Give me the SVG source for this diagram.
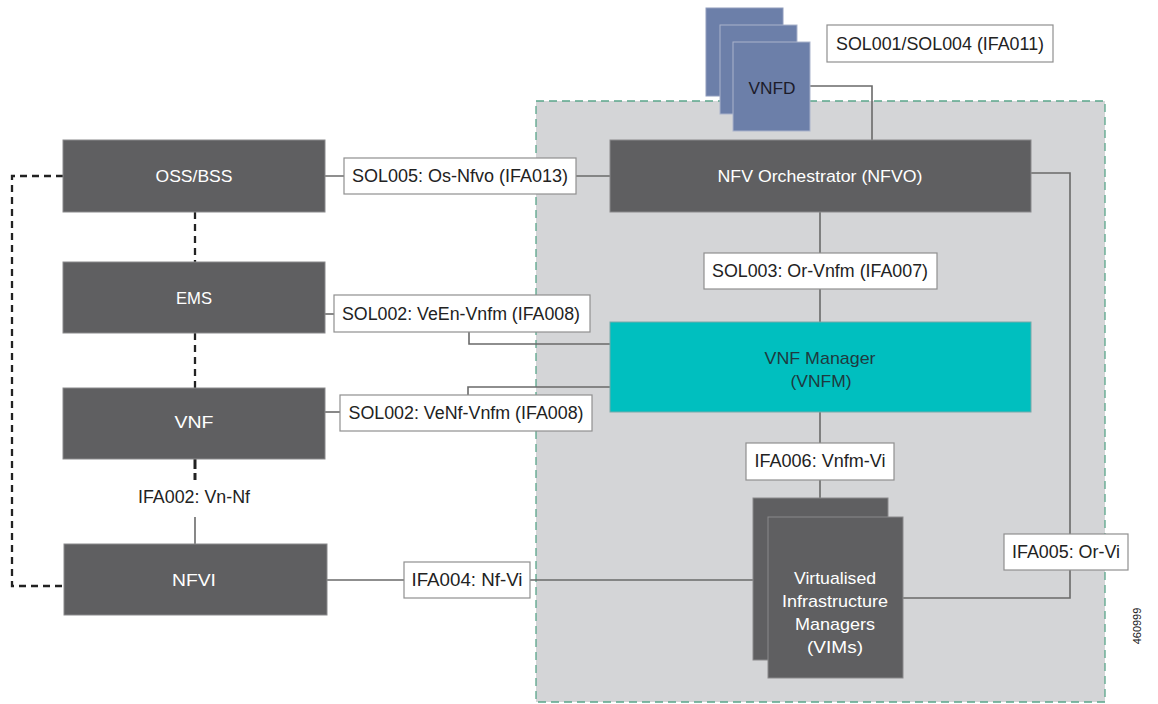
<svg xmlns="http://www.w3.org/2000/svg" width="1158" height="704" viewBox="0 0 1158 704">
<style>
.node{fill:#5f5f61;stroke:#8a8a8c;stroke-width:1}
.nt{font-family:"Liberation Sans",Arial,sans-serif;font-size:17px;fill:#ffffff;text-anchor:middle}
.dk{fill:#1e3a40}
.lbl{fill:#ffffff;stroke:#8f8f8f;stroke-width:1.2}
.lt{font-family:"Liberation Sans",Arial,sans-serif;font-size:17.5px;fill:#222222;text-anchor:middle}
.ln{fill:none;stroke:#6a6a6a;stroke-width:1.6}
.dash{fill:none;stroke:#222222;stroke-width:2.3;stroke-dasharray:7 5}
</style>
<rect width="1158" height="704" fill="#ffffff"/>
<g id="container">
<rect x="536" y="101" width="569" height="601" fill="#d4d5d7" stroke="#5aa58a" stroke-width="1.3" stroke-dasharray="8 5"/>
</g>
<g id="connectors">
<polyline class="ln" points="810,86 872,86 872,140"/>
<line class="ln" x1="325" y1="176" x2="610" y2="176"/>
<line class="ln" x1="325" y1="314" x2="334" y2="314"/>
<polyline class="ln" points="469,332 469,344 610,344"/>
<line class="ln" x1="325" y1="412" x2="340" y2="412"/>
<polyline class="ln" points="468,395 468,387 610,387"/>
<line class="ln" x1="820" y1="212" x2="820" y2="322"/>
<line class="ln" x1="820" y1="412" x2="820" y2="498"/>
<line class="ln" x1="327" y1="580" x2="753" y2="580"/>
<polyline class="ln" points="1031,173 1070,173 1070,598 903,598"/>
<line class="ln" x1="195" y1="517" x2="195" y2="544"/>
<line class="dash" x1="195" y1="212" x2="195" y2="262"/>
<line class="dash" x1="195" y1="333" x2="195" y2="388"/>
<line x1="195" y1="459" x2="195" y2="480" stroke="#222" stroke-width="3" stroke-dasharray="10 4"/>
<polyline class="dash" points="63,176 12,176 12,586 64,586"/>
</g>
<g id="vnfd">
<rect x="706" y="8" width="77" height="88" fill="#6c7fa9" stroke="#8f9cbc"/>
<rect x="720" y="25" width="77" height="89" fill="#6c7fa9" stroke="#a9b3cb"/>
<rect x="733" y="42" width="77" height="89" fill="#6c7fa9" stroke="#a9b3cb"/>
<text x="772" y="94" font-family="Liberation Sans,Arial,sans-serif" font-size="17" fill="#1c1c2a" text-anchor="middle" textLength="47" lengthAdjust="spacingAndGlyphs">VNFD</text>
</g>
<g id="label-sol001">
<rect class="lbl" x="827" y="25" width="226" height="37"/>
<text class="lt" x="940" y="50" textLength="208" lengthAdjust="spacingAndGlyphs">SOL001/SOL004 (IFA011)</text>
</g>
<g id="oss">
<rect class="node" x="63" y="140" width="262" height="72"/>
<text class="nt" x="194" y="182" textLength="77" lengthAdjust="spacingAndGlyphs">OSS/BSS</text>
</g>
<g id="ems">
<rect class="node" x="63" y="262" width="262" height="71"/>
<text class="nt" x="194" y="304" textLength="36" lengthAdjust="spacingAndGlyphs">EMS</text>
</g>
<g id="vnf">
<rect class="node" x="63" y="388" width="262" height="71"/>
<text class="nt" x="194" y="428" textLength="39" lengthAdjust="spacingAndGlyphs">VNF</text>
</g>
<g id="nfvi">
<rect class="node" x="64" y="544" width="263" height="71"/>
<text class="nt" x="194" y="586" textLength="44" lengthAdjust="spacingAndGlyphs">NFVI</text>
</g>
<g id="nfvo">
<rect class="node" x="610" y="140" width="421" height="72"/>
<text class="nt" x="820" y="182" textLength="205" lengthAdjust="spacingAndGlyphs">NFV Orchestrator (NFVO)</text>
</g>
<g id="vnfm">
<rect x="610" y="322" width="421" height="90" fill="#00bfbf" stroke="#7aa"/>
<text class="nt dk" x="820" y="364" textLength="111" lengthAdjust="spacingAndGlyphs">VNF Manager</text>
<text class="nt dk" x="821" y="387" textLength="61" lengthAdjust="spacingAndGlyphs">(VNFM)</text>
</g>
<g id="vims">
<rect class="node" x="753" y="498" width="135" height="162"/>
<rect class="node" x="768" y="517" width="135" height="161"/>
<text class="nt" x="835" y="584" textLength="82" lengthAdjust="spacingAndGlyphs">Virtualised</text>
<text class="nt" x="835" y="607" textLength="106" lengthAdjust="spacingAndGlyphs">Infrastructure</text>
<text class="nt" x="835" y="630" textLength="80" lengthAdjust="spacingAndGlyphs">Managers</text>
<text class="nt" x="835" y="653" textLength="56" lengthAdjust="spacingAndGlyphs">(VIMs)</text>
</g>
<g id="label-sol005">
<rect class="lbl" x="344" y="158" width="232" height="36"/>
<text class="lt" x="460" y="182" textLength="216" lengthAdjust="spacingAndGlyphs">SOL005: Os-Nfvo (IFA013)</text>
</g>
<g id="label-sol002-veen">
<rect class="lbl" x="334" y="295" width="256" height="37"/>
<text class="lt" x="461" y="320" textLength="238" lengthAdjust="spacingAndGlyphs">SOL002: VeEn-Vnfm (IFA008)</text>
</g>
<g id="label-sol002-venf">
<rect class="lbl" x="340" y="395" width="252" height="36"/>
<text class="lt" x="466" y="419" textLength="235" lengthAdjust="spacingAndGlyphs">SOL002: VeNf-Vnfm (IFA008)</text>
</g>
<g id="label-sol003">
<rect class="lbl" x="704" y="253" width="233" height="36"/>
<text class="lt" x="820" y="277" textLength="216" lengthAdjust="spacingAndGlyphs">SOL003: Or-Vnfm (IFA007)</text>
</g>
<g id="label-ifa006">
<rect class="lbl" x="746" y="443" width="148" height="37"/>
<text class="lt" x="820" y="467" textLength="131" lengthAdjust="spacingAndGlyphs">IFA006: Vnfm-Vi</text>
</g>
<g id="label-ifa004">
<rect class="lbl" x="404" y="562" width="126" height="36"/>
<text class="lt" x="467" y="586" textLength="111" lengthAdjust="spacingAndGlyphs">IFA004: Nf-Vi</text>
</g>
<g id="label-ifa005">
<rect class="lbl" x="1004" y="534" width="124" height="36"/>
<text class="lt" x="1066" y="558" textLength="108" lengthAdjust="spacingAndGlyphs">IFA005: Or-Vi</text>
</g>
<g id="label-ifa002">
<text class="lt" x="194" y="503" textLength="112" lengthAdjust="spacingAndGlyphs">IFA002: Vn-Nf</text>
</g>
<text x="1141" y="626" transform="rotate(-90 1141 626)" font-family="Liberation Sans,Arial,sans-serif" font-size="11" fill="#222" text-anchor="middle">460999</text>
</svg>
